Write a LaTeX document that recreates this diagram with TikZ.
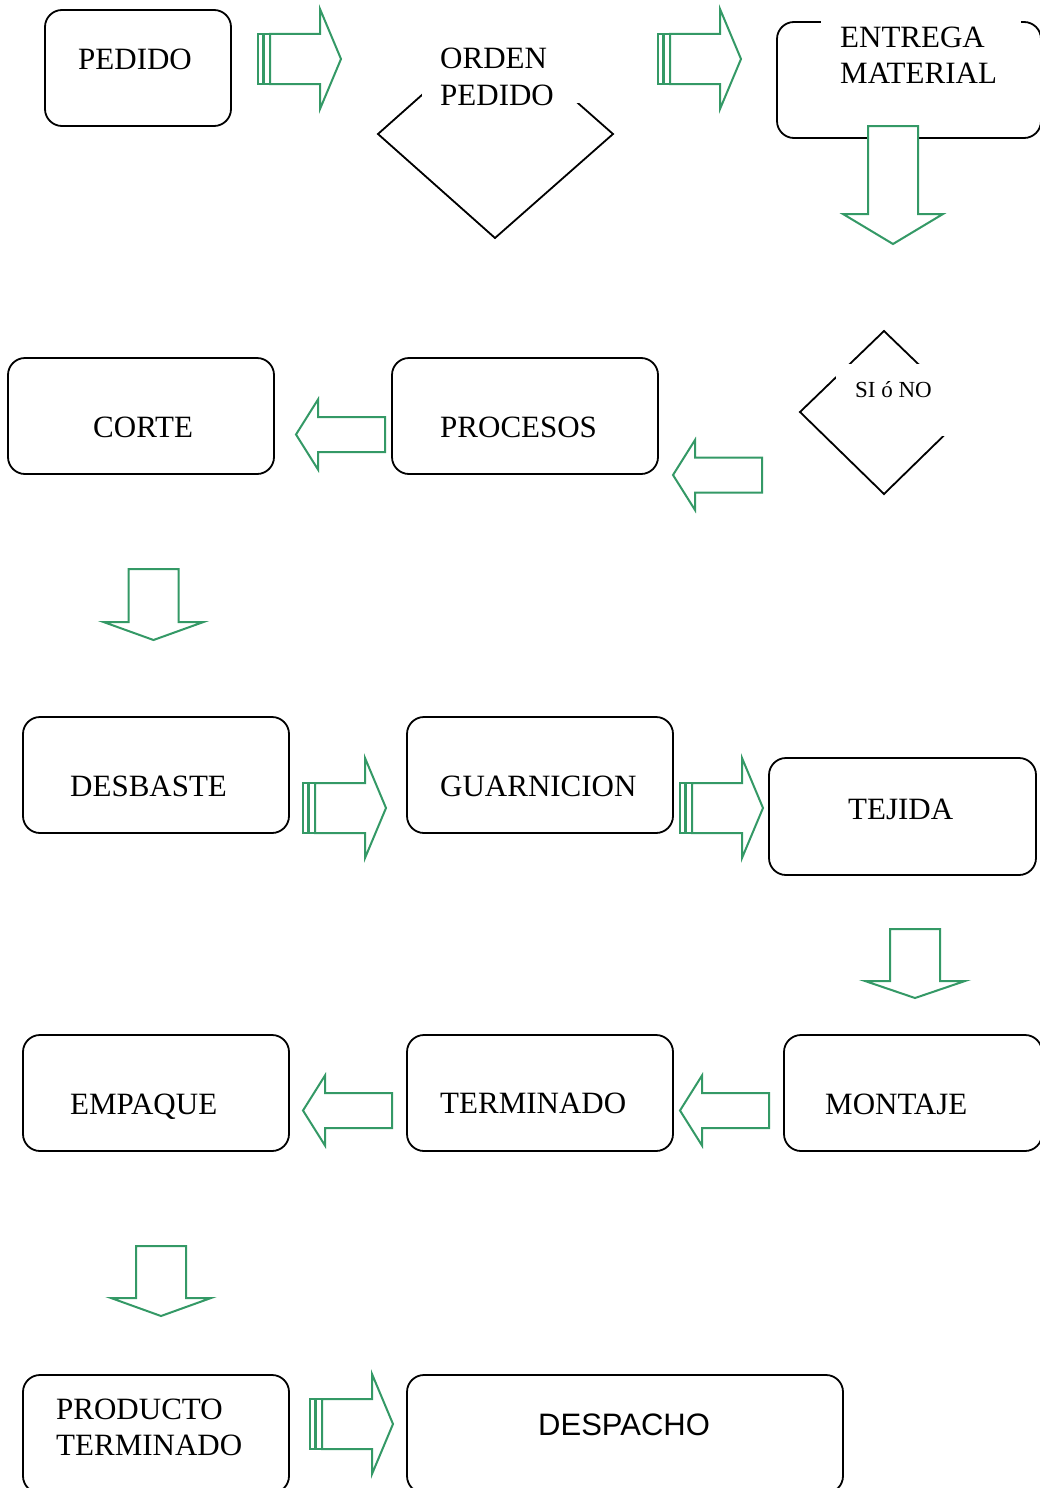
\documentclass[tikz,border=0pt]{standalone}
\usepackage{fontspec}
\setmainfont{Liberation Serif}
\newfontfamily\sansfam{Liberation Sans}
\definecolor{arrgreen}{RGB}{52,153,102}
% striped right block arrow: #1 = left x, #2 = centre y
\newcommand\GreenRight[2]{%
  \begin{scope}[shift={(#1,#2)}]
    \draw[strip] (0,-25) rectangle (5,25);
    \draw[strip] (6,-25) rectangle (12,25);
    \draw[blk] (12,-25) -- (62,-25) -- (62,-50) -- (83,0) -- (62,50) -- (62,25) -- (12,25) -- cycle;
  \end{scope}}
% left block arrow: #1,#2 = tip
\newcommand\GreenLeft[2]{%
  \begin{scope}[shift={(#1,#2)}]
    \draw[blk] (0,0) -- (22,-35) -- (22,-17.5) -- (89,-17.5) -- (89,17.5) -- (22,17.5) -- (22,35) -- cycle;
  \end{scope}}
% down block arrow: #1 = centre x, #2 = top, #3 = head base, #4 = tip y
\newcommand\GreenDown[4]{%
  \draw[blk] (#1-25,#2) -- (#1+25,#2) -- (#1+25,#3) -- (#1+50,#3) -- (#1,#4) -- (#1-50,#3) -- (#1-25,#3) -- cycle;}
\begin{document}
\begin{tikzpicture}[x=1pt,y=-1pt,
  box/.style={draw=black, line width=1.8pt, rounded corners=17pt, inner sep=0pt},
  lbl/.style={inner sep=0pt, anchor=base west, font=\fontsize{31}{36}\selectfont},
  blk/.style={draw=arrgreen, line width=2pt, fill=white, line join=miter},
  strip/.style={draw=arrgreen, line width=1.4pt, fill=white},
  dia/.style={draw=black, line width=1.8pt, line join=miter}]
\useasboundingbox (0,0) rectangle (1040,1488);
\clip (0,0) rectangle (1040,1488);
\fill[white] (0,0) rectangle (1040,1488);

% boxes
\node[box, minimum width=186pt, minimum height=116pt] (pedidoBox) at (138,68) {};
\node[box, minimum width=264pt, minimum height=116pt] (entregaBox) at (909,80) {};
\node[box, minimum width=266pt, minimum height=116pt] (procBox) at (525,416) {};
\node[box, minimum width=266pt, minimum height=116pt] (corteBox) at (141,416) {};
\node[box, minimum width=266pt, minimum height=116pt] (desbBox) at (156,775) {};
\node[box, minimum width=266pt, minimum height=116pt] (guarBox) at (540,775) {};
\node[box, minimum width=267pt, minimum height=117pt] (tejBox) at (902.5,816.5) {};
\node[box, minimum width=266pt, minimum height=116pt] (empBox) at (156,1093) {};
\node[box, minimum width=266pt, minimum height=116pt] (termBox) at (540,1093) {};
\node[box, minimum width=258pt, minimum height=116pt] (montBox) at (913,1093) {};
\node[box, minimum width=266pt, minimum height=118pt] (prodBox) at (156,1434) {};
\node[box, minimum width=436pt, minimum height=118pt] (despBox) at (625,1434) {};

% diamonds
\coordinate (d1l) at (378,134); \coordinate (d1t) at (495,30);
\coordinate (d1r) at (613,134); \coordinate (d1b) at (495,238);
\draw[dia] (d1l) -- (d1t) -- (d1r) -- (d1b) -- cycle;
\coordinate (d2l) at (800,412); \coordinate (d2t) at (884,331);
\coordinate (d2r) at (968,412); \coordinate (d2b) at (884,494);
\draw[dia] (d2l) -- (d2t) -- (d2r) -- (d2b) -- cycle;

% white text backgrounds
\fill[white] (422,20) rectangle (580,103);
\fill[white] (821,12) rectangle (1021,95);
\fill[white] (836,364) rectangle (980,436);

% texts
\node[lbl] (pedido) at (78,70) {PEDIDO};
\node[lbl, align=left] (orden) at (440,105) {ORDEN\\PEDIDO};
\node[lbl, align=left] (entrega) at (840,84) {ENTREGA\\MATERIAL};
\node[inner sep=0pt, anchor=base, font=\fontsize{23}{27}\selectfont] (sino) at (893.5,397) {SI ó NO};
\node[lbl] (corte) at (93,437) {CORTE};
\node[lbl] (procesos) at (440,437) {PROCESOS};
\node[lbl] (desbaste) at (70,796) {DESBASTE};
\node[lbl] (guarnicion) at (440,796) {GUARNICION};
\node[lbl] (tejida) at (848,819) {TEJIDA};
\node[lbl] (empaque) at (70,1114) {EMPAQUE};
\node[lbl] (terminado) at (440,1113) {TERMINADO};
\node[lbl] (montaje) at (825,1114) {MONTAJE};
\node[lbl, align=left] (producto) at (56,1455) {PRODUCTO\\TERMINADO};
\node[lbl, font=\sansfam\fontsize{31}{36}\selectfont] (despacho) at (538,1435) {DESPACHO};

% block arrows
\GreenRight{258}{59}
\GreenRight{658}{59}
\GreenDown{893}{126}{214}{244}
\GreenLeft{673}{475}
\GreenLeft{296}{434.5}
\GreenDown{153.5}{569}{622}{640}
\GreenRight{303}{808}
\GreenRight{680}{808}
\GreenDown{915}{929}{981}{998}
\GreenLeft{680}{1110.5}
\GreenLeft{303}{1110.5}
\GreenDown{161}{1246}{1298}{1316}
\GreenRight{310}{1424}
\end{tikzpicture}
\end{document}
